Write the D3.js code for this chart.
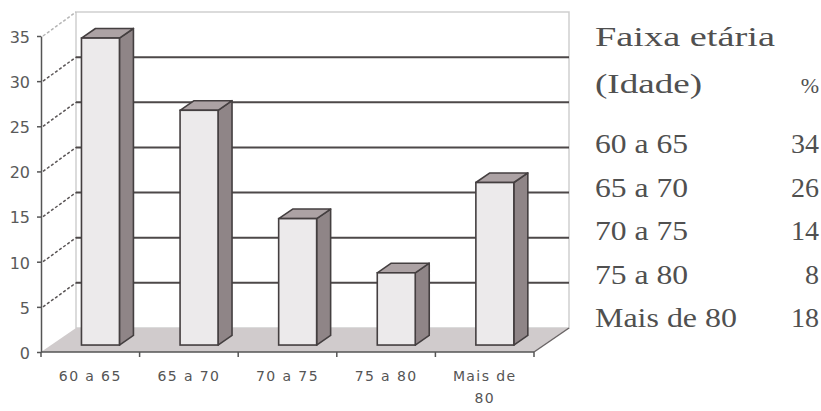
<!DOCTYPE html>
<html>
<head>
<meta charset="utf-8">
<script src="https://cdn.jsdelivr.net/npm/d3@7"></script>
<style>
  html, body { margin: 0; padding: 0; background: #fff; }
  svg { display: block; }
</style>
</head>
<body>
<svg id="chart" width="821" height="411"></svg>
<script>
// Age groups and their share (%)
const categories = ["60 a 65", "65 a 70", "70 a 75", "75 a 80", "Mais de 80"];
const axisLabels = [["60 a 65"], ["65 a 70"], ["70 a 75"], ["75 a 80"], ["Mais de", "80"]];
const values = [34, 26, 14, 8, 18];
const yTicks = [0, 5, 10, 15, 20, 25, 30, 35];
const tableTitle = ["Faixa etária", "(Idade)"];
const tableUnit = "%";

const svg = d3.select("#chart");

// front plane of the 3D box
const plotL = 41, plotR = 534, plotB = 352, plotT = 36;
const depth = { x: 35, y: -24 };      // vector from front plane to back wall
const barFront = 0.29, barBack = 0.69; // bar position inside the depth

const x = d3.scaleBand().domain(categories).range([plotL, plotR])
  .paddingInner(0.615).paddingOuter(0.3075);
const y = d3.scaleLinear().domain([0, 35]).range([plotB, plotT]);

const ink = "#443f40";
const back = (px, py, f = 1) => [px + depth.x * f, py + depth.y * f];
const pts = a => a.map(p => p.join(",")).join(" ");

// back wall
svg.append("polygon")
  .attr("points", pts([back(plotL, y(35)), back(plotR, y(35)), back(plotR, y(0)), back(plotL, y(0))]))
  .attr("fill", "#fff").attr("stroke", "#cfcfcf").attr("stroke-width", 1.5);

// gridlines on the back wall
svg.append("g").selectAll("line").data(yTicks.filter(t => t > 0 && t < 35)).join("line")
  .attr("x1", back(plotL, 0)[0]).attr("x2", back(plotR, 0)[0])
  .attr("y1", d => back(0, y(d))[1]).attr("y2", d => back(0, y(d))[1])
  .attr("stroke", "#4d4849").attr("stroke-width", 2);

// side wall: dashed lines from each tick to the back wall
svg.append("g").selectAll("line").data(yTicks.filter(t => t > 0)).join("line")
  .attr("x1", plotL + 2).attr("y1", d => y(d))
  .attr("x2", back(plotL, 0)[0]).attr("y2", d => back(0, y(d))[1])
  .attr("stroke", d => d === 35 ? "#b5b5b5" : "#5a5556")
  .attr("stroke-width", 1.5).attr("stroke-dasharray", "3,2");

// floor
svg.append("polygon")
  .attr("points", pts([[plotL, y(0)], [plotR, y(0)], back(plotR, y(0)), back(plotL, y(0))]))
  .attr("fill", "#d0cbcc");

// bars
const bx = depth.x * (barBack - barFront), by = depth.y * (barBack - barFront);
const ox = depth.x * barFront, oy = depth.y * barFront;
const bars = svg.append("g").selectAll("g").data(categories.map((c, i) => ({ c, v: values[i] }))).join("g");
bars.each(function (d) {
  const g = d3.select(this);
  const x0 = x(d.c) + ox, x1 = x0 + x.bandwidth();
  const yT = y(d.v) + oy, yB = y(0) + oy;
  g.append("polygon")
    .attr("points", pts([[x1, yT], [x1 + bx, yT + by], [x1 + bx, yB + by], [x1, yB]]))
    .attr("fill", "#8f8587").attr("stroke", ink).attr("stroke-width", 1.6).attr("stroke-linejoin", "round");
  g.append("polygon")
    .attr("points", pts([[x0, yT], [x0 + bx, yT + by], [x1 + bx, yT + by], [x1, yT]]))
    .attr("fill", "#aca2a4").attr("stroke", ink).attr("stroke-width", 1.6).attr("stroke-linejoin", "round");
  g.append("rect").attr("x", x0).attr("y", yT).attr("width", x.bandwidth()).attr("height", yB - yT)
    .attr("fill", "#eceaeb").attr("stroke", ink).attr("stroke-width", 1.6);
});

// value axis
const yAxis = svg.append("g").attr("transform", `translate(${plotL},0)`)
  .call(d3.axisLeft(y).tickValues(yTicks).tickSize(4).tickSizeOuter(0).tickPadding(7));
yAxis.select(".domain").attr("stroke", "#555").attr("stroke-width", 1.5);
yAxis.selectAll(".tick line").attr("stroke", "#555").attr("stroke-width", 1.5);
yAxis.selectAll(".tick text").attr("fill", "#5a5a5a")
  .style("font-family", "'DejaVu Sans', sans-serif").style("font-size", "16px").attr("dy", "0.4em");

// category axis: front edge of the floor with boundary ticks
svg.append("line").attr("x1", plotL).attr("x2", plotR).attr("y1", plotB).attr("y2", plotB)
  .attr("stroke", "#555").attr("stroke-width", 1.5);
const bounds = categories.map(c => x(c) - x.step() * x.paddingOuter()).concat([plotR]);
svg.append("g").selectAll("line").data(bounds).join("line")
  .attr("x1", d => d).attr("x2", d => d).attr("y1", plotB).attr("y2", plotB + 5)
  .attr("stroke", "#555").attr("stroke-width", 1.5);
// right edge of the floor
svg.append("line").attr("x1", plotR).attr("y1", plotB).attr("x2", back(plotR, 0)[0]).attr("y2", back(0, plotB)[1])
  .attr("stroke", "#6a6566").attr("stroke-width", 1.5);

const xl = svg.append("g").selectAll("text").data(categories).join("text")
  .attr("y", 381)
  .attr("text-anchor", "middle")
  .attr("fill", "#555")
  .style("font-family", "'DejaVu Sans', sans-serif").style("font-size", "14px")
  .style("letter-spacing", "1.4px");
xl.each(function (d, i) {
  d3.select(this).selectAll("tspan").data(axisLabels[i]).join("tspan")
    .attr("x", x(d) + x.bandwidth() / 2)
    .attr("dy", (t, j) => j === 0 ? 0 : 22)
    .text(t => t);
});

// data table
const tf = "'Liberation Serif', 'Times New Roman', serif";
const tcol = "#505050";
const tx = 595, numX = 819;
const tText = (sel, len) => sel.attr("fill", tcol).style("font-family", tf).style("font-size", "27px")
  .attr("textLength", len).attr("lengthAdjust", "spacingAndGlyphs");
tText(svg.append("text").attr("x", tx).attr("y", 46).text(tableTitle[0]), 180);
tText(svg.append("text").attr("x", tx).attr("y", 93).text(tableTitle[1]), 107);
svg.append("text").attr("x", numX).attr("y", 93).text(tableUnit).attr("text-anchor", "end")
  .attr("fill", tcol).style("font-family", tf).style("font-size", "22px");

const rowY = d3.scalePoint().domain(categories).range([153, 327]);
svg.append("g").selectAll("text").data(categories).join("text")
  .attr("x", tx).attr("y", d => rowY(d)).text(d => d)
  .call(s => tText(s, d => d.length > 7 ? 142 : 93));
svg.append("g").selectAll("text").data(values).join("text")
  .attr("x", numX).attr("y", (d, i) => rowY(categories[i])).text(d => d)
  .attr("text-anchor", "end")
  .attr("fill", tcol).style("font-family", tf).style("font-size", "28px");
</script>
</body>
</html>
